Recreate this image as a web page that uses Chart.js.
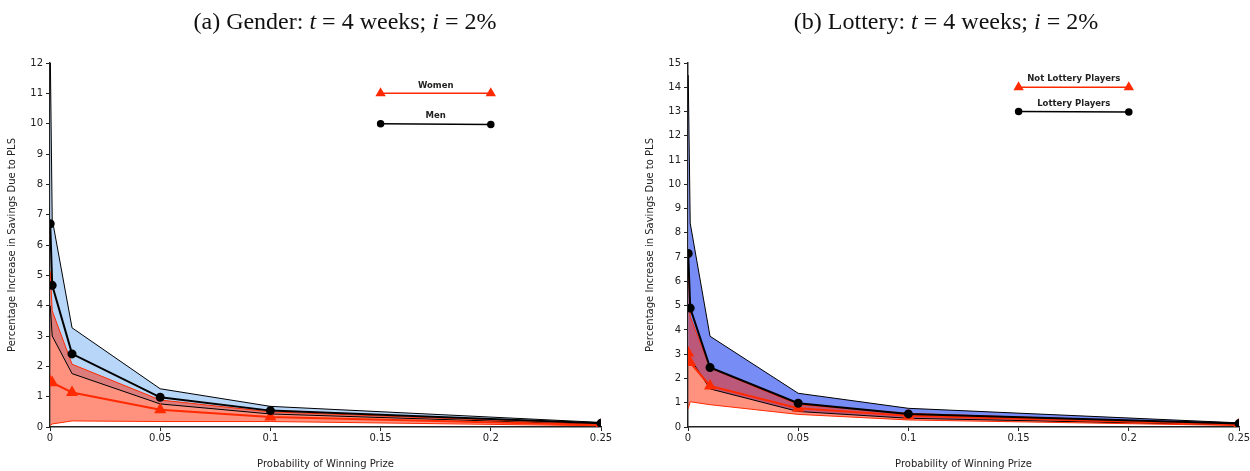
<!DOCTYPE html>
<html>
<head>
<meta charset="utf-8">
<script src="https://cdn.jsdelivr.net/npm/chart.js@4.4.1/dist/chart.umd.min.js"></script>
<style>
html, body { margin: 0; padding: 0; background: #fff; overflow: hidden; }
#page { position: relative; width: 1250px; height: 471px; overflow: hidden; }
canvas { position: absolute; top: 0; }
.title {
  position: absolute; top: 8px; transform: translateX(-50%);
  font-family: "Liberation Serif", "DejaVu Serif", serif; font-size: 24px;
  color: #111; white-space: nowrap;
}
</style>
</head>
<body>
<div id="page">
  <canvas id="gender" width="625" height="471" style="left:0"></canvas>
  <canvas id="lottery" width="625" height="471" style="left:638px"></canvas>
  <div class="title" style="left:345px">(a) Gender: <i>t</i> = 4 weeks; <i>i</i> = 2%</div>
  <div class="title" style="left:946px">(b) Lottery: <i>t</i> = 4 weeks; <i>i</i> = 2%</div>
</div>
<script>
// --- data ---
const probs = [0.0001, 0.001, 0.01, 0.05, 0.1, 0.25]
const xTicks = [0, 0.05, 0.1, 0.15, 0.2, 0.25]
const xTickLabels = ['0', '0.05', '0.1', '0.15', '0.2', '0.25']

// (a) gender
const menEst = [6.7, 4.67, 2.41, 0.98, 0.54, 0.12]
const menHigh = [12.5, 6.85, 3.27, 1.26, 0.68, 0.15]
const menLow = [4.0, 3.0, 1.76, 0.76, 0.43, 0.08]
const womenEst = [1.5, 1.46, 1.14, 0.57, 0.33, 0.07]
const womenHigh = [5.15, 3.83, 2.07, 0.89, 0.5, 0.1]
const womenLow = [0.05, 0.1, 0.2, 0.18, 0.18, 0.04]
const genderYTicks = [0, 1, 2, 3, 4, 5, 6, 7, 8, 9, 10, 11, 12]

// (b) lottery
const lotEst = [7.15, 4.9, 2.45, 0.98, 0.54, 0.14]
const lotHigh = [14.5, 8.4, 3.74, 1.39, 0.77, 0.17]
const lotLow = [3.2, 2.82, 1.57, 0.64, 0.36, 0.08]
const nonEst = [3.05, 2.66, 1.69, 0.77, 0.46, 0.1]
const nonHigh = [6.8, 4.55, 2.43, 0.92, 0.56, 0.12]
const nonLow = [0.75, 1.04, 0.92, 0.52, 0.29, 0.06]
const lotteryYTicks = [0, 1, 2, 3, 4, 5, 6, 7, 8, 9, 10, 11, 12, 13, 14, 15]

// in-plot legend rows
const legendX = [0.15, 0.2]
const womenKeyY = [11, 11]
const menKeyY = [10, 9.97]
const nonKeyY = [14, 14]
const lotKeyY = [13, 12.98]

const RED = '#ff2a00'
const FONT = '"DejaVu Sans", "Noto Sans", sans-serif'

const pts = (ys, xs = probs) => ys.map((y, i) => ({ x: xs[i], y }))

// labels above the in-plot legend lines
const keyLabels = {
  id: 'keyLabels',
  afterDatasetsDraw(chart) {
    const ctx = chart.ctx
    chart.data.datasets.forEach((ds, i) => {
      if (!ds.keyRow) return
      const p = chart.getDatasetMeta(i).data
      const x = (p[0].x + p[p.length - 1].x) / 2
      const y = (p[0].y + p[p.length - 1].y) / 2 - 8
      ctx.save()
      ctx.font = 'bold 8.5px ' + FONT
      ctx.fillStyle = '#222'
      ctx.textAlign = 'center'
      ctx.textBaseline = 'middle'
      ctx.fillText(ds.label, x, y)
      ctx.restore()
    })
  },
}

function makeChart(id, s) {
  const est = (label, ys, color, style, r) => ({
    label, data: pts(ys), borderColor: color, backgroundColor: color,
    borderWidth: 2, pointStyle: style, pointRadius: r, fill: false,
  })
  const band = (ys, line, fillColor) => ({
    data: pts(ys), borderColor: line, borderWidth: 1, pointRadius: 0,
    fill: fillColor ? '+1' : false, backgroundColor: fillColor || 'transparent',
  })
  const key = (label, ys, color, style, r) => ({
    label, keyRow: true, data: pts(ys, legendX), borderColor: color,
    backgroundColor: color, borderWidth: 1.5,
    pointStyle: style, pointRadius: r, fill: false,
  })

  new Chart(document.getElementById(id), {
    type: 'line',
    data: {
      datasets: [
        est(s.blackName, s.bEst, '#000', 'circle', 3.5),
        est(s.redName, s.rEst, RED, 'triangle', 5),
        band(s.rHigh, RED, 'rgba(255,35,0,0.5)'),
        band(s.rLow, RED),
        band(s.bHigh, '#000', s.blueFill),
        band(s.bLow, '#000'),
        key(s.redName, s.redKey, RED, 'triangle', 4.5),
        key(s.blackName, s.blackKey, '#000', 'circle', 3),
      ],
    },
    options: {
      responsive: false,
      animation: false,
      devicePixelRatio: 1,
      layout: { padding: { top: 63, right: 24, left: 0, bottom: 0 } },
      elements: { line: { tension: 0 } },
      plugins: {
        legend: { display: false },
        tooltip: { enabled: false },
        filler: { drawTime: 'beforeDatasetsDraw' },
      },
      scales: {
        x: {
          type: 'linear', min: 0, max: 0.25,
          afterFit: (sc) => { sc.height = 44 },
          afterBuildTicks: (sc) => { sc.ticks = xTicks.map((v) => ({ value: v })) },
          border: { display: true, color: '#222', width: 1.5 },
          grid: { drawOnChartArea: false, drawTicks: true, tickLength: 4, color: '#222' },
          ticks: {
            color: '#222', padding: 1, maxRotation: 0, autoSkip: false,
            font: { family: FONT, size: 10 },
            callback: (v) => xTickLabels[xTicks.indexOf(v)],
          },
          title: {
            display: true, text: 'Probability of Winning Prize', color: '#222',
            font: { family: FONT, size: 10 }, padding: { top: 0, bottom: 1 },
          },
        },
        y: {
          type: 'linear', min: 0, max: s.yTicks[s.yTicks.length - 1],
          afterFit: (sc) => { sc.width = 50 },
          afterBuildTicks: (sc) => { sc.ticks = s.yTicks.map((v) => ({ value: v })) },
          border: { display: true, color: '#222', width: 1.5 },
          grid: { drawOnChartArea: false, drawTicks: true, tickLength: 4, color: '#222' },
          ticks: { color: '#222', padding: 3, font: { family: FONT, size: 10 } },
          title: {
            display: true, text: 'Percentage Increase in Savings Due to PLS', color: '#222',
            font: { family: FONT, size: 10 }, padding: { top: 6, bottom: 0 },
          },
        },
      },
    },
    plugins: [keyLabels],
  })
}

makeChart('gender', {
  blackName: 'Men', redName: 'Women',
  bEst: menEst, bHigh: menHigh, bLow: menLow,
  rEst: womenEst, rHigh: womenHigh, rLow: womenLow,
  blueFill: 'rgb(184,214,248)',
  redKey: womenKeyY, blackKey: menKeyY, yTicks: genderYTicks,
})

makeChart('lottery', {
  blackName: 'Lottery Players', redName: 'Not Lottery Players',
  bEst: lotEst, bHigh: lotHigh, bLow: lotLow,
  rEst: nonEst, rHigh: nonHigh, rLow: nonLow,
  blueFill: 'rgb(120,140,245)',
  redKey: nonKeyY, blackKey: lotKeyY, yTicks: lotteryYTicks,
})
</script>
</body>
</html>
